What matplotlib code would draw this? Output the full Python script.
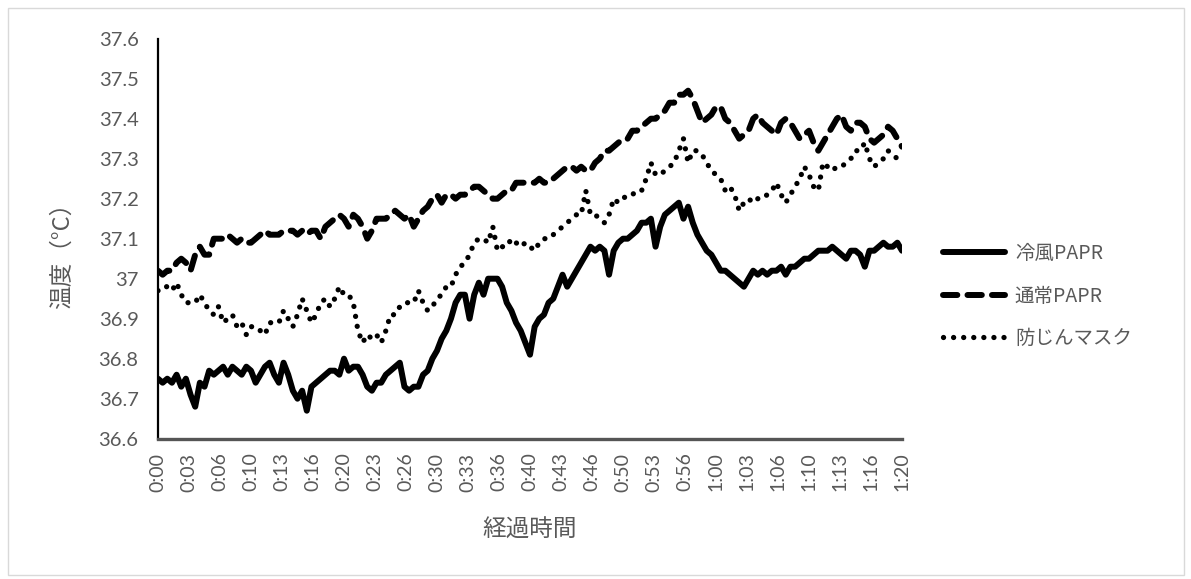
import numpy as np
import matplotlib
matplotlib.use("Agg")
import matplotlib.pyplot as plt
from matplotlib.patches import Rectangle

# 経過時間 (分) : 30秒ごとの記録
minutes = np.arange(0, 80.5, 0.5)

# 冷風PAPR
cold_papr = [
    36.75, 36.74, 36.75, 36.74, 36.76, 36.73, 36.75, 36.71, 36.68, 36.74,
    36.73, 36.77, 36.76, 36.77, 36.78, 36.76, 36.78, 36.77, 36.76, 36.78,
    36.77, 36.74, 36.76, 36.78, 36.79, 36.76, 36.74, 36.79, 36.76, 36.72,
    36.70, 36.72, 36.67, 36.73, 36.74, 36.75, 36.76, 36.77, 36.77, 36.76,
    36.80, 36.77, 36.78, 36.78, 36.76, 36.73, 36.72, 36.74, 36.74, 36.76,
    36.77, 36.78, 36.79, 36.73, 36.72, 36.73, 36.73, 36.76, 36.77, 36.80,
    36.82, 36.85, 36.87, 36.90, 36.94, 36.96, 36.96, 36.90, 36.96, 36.99,
    36.96, 37.00, 37.00, 37.00, 36.98, 36.94, 36.92, 36.89, 36.87, 36.84,
    36.81, 36.88, 36.90, 36.91, 36.94, 36.95, 36.98, 37.01, 36.98, 37.00,
    37.02, 37.04, 37.06, 37.08, 37.07, 37.08, 37.07, 37.01, 37.07, 37.09,
    37.10, 37.10, 37.11, 37.12, 37.14, 37.14, 37.15, 37.08, 37.13, 37.16,
    37.17, 37.18, 37.19, 37.15, 37.18, 37.14, 37.11, 37.09, 37.07, 37.06,
    37.04, 37.02, 37.02, 37.01, 37.00, 36.99, 36.98, 37.00, 37.02, 37.01,
    37.02, 37.01, 37.02, 37.02, 37.03, 37.01, 37.03, 37.03, 37.04, 37.05,
    37.05, 37.06, 37.07, 37.07, 37.07, 37.08, 37.07, 37.06, 37.05, 37.07,
    37.07, 37.06, 37.03, 37.07, 37.07, 37.08, 37.09, 37.08, 37.08, 37.09,
    37.07,
]

# 通常PAPR
normal_papr = [
    37.02, 37.01, 37.02, 37.02, 37.04, 37.05, 37.04, 37.02, 37.06, 37.08,
    37.06, 37.06, 37.10, 37.10, 37.10, 37.11, 37.10, 37.09, 37.10, 37.09,
    37.09, 37.10, 37.11, 37.12, 37.11, 37.11, 37.11, 37.12, 37.12, 37.12,
    37.11, 37.12, 37.11, 37.12, 37.12, 37.10, 37.13, 37.14, 37.15, 37.16,
    37.15, 37.13, 37.16, 37.15, 37.13, 37.10, 37.12, 37.15, 37.15, 37.15,
    37.16, 37.17, 37.16, 37.15, 37.16, 37.13, 37.15, 37.17, 37.18, 37.20,
    37.21, 37.19, 37.21, 37.21, 37.20, 37.21, 37.21, 37.22, 37.23, 37.23,
    37.22, 37.21, 37.20, 37.20, 37.21, 37.22, 37.22, 37.24, 37.24, 37.24,
    37.24, 37.24, 37.25, 37.24, 37.24, 37.25, 37.26, 37.27, 37.28, 37.28,
    37.27, 37.28, 37.27, 37.27, 37.29, 37.30, 37.32, 37.32, 37.33, 37.34,
    37.35, 37.35, 37.37, 37.37, 37.38, 37.39, 37.40, 37.40, 37.41, 37.42,
    37.44, 37.44, 37.46, 37.46, 37.47, 37.45, 37.42, 37.39, 37.40, 37.41,
    37.43, 37.43, 37.40, 37.39, 37.37, 37.35, 37.36, 37.37, 37.40, 37.41,
    37.39, 37.38, 37.37, 37.36, 37.39, 37.40, 37.39, 37.37, 37.35, 37.36,
    37.37, 37.34, 37.32, 37.34, 37.36, 37.38, 37.40, 37.41, 37.38, 37.37,
    37.39, 37.39, 37.38, 37.35, 37.34, 37.35, 37.36, 37.38, 37.37, 37.35,
    37.33,
]

# 防じんマスク
dust_mask = [
    36.97, 36.98, 36.98, 36.97, 36.99, 36.96, 36.94, 36.94, 36.94, 36.96,
    36.94, 36.92, 36.91, 36.93, 36.89, 36.90, 36.91, 36.88, 36.89, 36.86,
    36.88, 36.88, 36.87, 36.86, 36.89, 36.89, 36.89, 36.92, 36.90, 36.88,
    36.91, 36.95, 36.92, 36.89, 36.91, 36.94, 36.95, 36.93, 36.95, 36.98,
    36.96, 36.96, 36.94, 36.87, 36.84, 36.86, 36.85, 36.86, 36.84, 36.87,
    36.91, 36.91, 36.93, 36.94, 36.94, 36.94, 36.97, 36.94, 36.92, 36.93,
    36.95, 36.96, 36.98, 36.98, 37.01, 37.03, 37.04, 37.06, 37.09, 37.10,
    37.10, 37.09, 37.13, 37.07, 37.08, 37.08, 37.10, 37.09, 37.08, 37.09,
    37.08, 37.07, 37.09, 37.10, 37.10, 37.11, 37.12, 37.13, 37.14, 37.15,
    37.16, 37.16, 37.22, 37.16, 37.16, 37.15, 37.14, 37.16, 37.20, 37.19,
    37.20, 37.21, 37.21, 37.22, 37.22, 37.25, 37.29, 37.26, 37.26, 37.27,
    37.28, 37.29, 37.32, 37.35, 37.29, 37.32, 37.32, 37.31, 37.29, 37.27,
    37.26, 37.25, 37.22, 37.23, 37.21, 37.17, 37.19, 37.20, 37.19, 37.20,
    37.20, 37.21, 37.22, 37.24, 37.21, 37.19, 37.21, 37.23, 37.25, 37.28,
    37.26, 37.23, 37.22, 37.29, 37.28, 37.27, 37.28, 37.28, 37.29, 37.30,
    37.32, 37.32, 37.34, 37.30, 37.28, 37.29, 37.30, 37.32, 37.31, 37.30,
    37.30,
]

series_names = ["冷風PAPR", "通常PAPR", "防じんマスク"]

# 横軸の目盛りは 3分20秒ごと
xtick_labels = ["0:00", "0:03", "0:06", "0:10", "0:13", "0:16", "0:20", "0:23",
                "0:26", "0:30", "0:33", "0:36", "0:40", "0:43", "0:46", "0:50",
                "0:53", "0:56", "1:00", "1:03", "1:06", "1:10", "1:13", "1:16",
                "1:20"]
ytick_values = [36.6, 36.7, 36.8, 36.9, 37.0, 37.1, 37.2, 37.3, 37.4, 37.5, 37.6]
ytick_labels = ["36.6", "36.7", "36.8", "36.9", "37", "37.1", "37.2", "37.3",
                "37.4", "37.5", "37.6"]

GRAY = "#595959"
JP = ["Noto Sans CJK JP", "DejaVu Sans"]
NUM = ["Lato", "DejaVu Sans"]

fig = plt.figure(figsize=(11.91, 5.79), dpi=100)
fig.patches.append(Rectangle((0.007, 0.007), 0.987, 0.979, transform=fig.transFigure,
                             fill=False, edgecolor="#d9d9d9", linewidth=1.0))

ax = fig.add_axes([158 / 1191, 1 - 438.7 / 579, 744 / 1191, 400 / 579])

ax.plot(minutes, cold_papr, color="black", lw=4.3, solid_capstyle="round",
        solid_joinstyle="round", label=series_names[0])
ax.plot(minutes, normal_papr, color="black", lw=4.3, linestyle=(0, (2.4, 1.7)),
        dash_capstyle="round", label=series_names[1])
ax.plot(minutes, dust_mask, color="black", lw=3.8, linestyle=(0, (0.01, 1.9)),
        dash_capstyle="round", label=series_names[2])

ax.set_xlim(0, 80)
ax.set_ylim(36.6, 37.6)
ax.set_xticks(np.linspace(0, 80, len(xtick_labels)))
ax.set_xticklabels(xtick_labels, rotation=90, fontfamily=NUM, fontsize=14, color=GRAY)
ax.set_yticks(ytick_values)
ax.set_yticklabels(ytick_labels, fontfamily=NUM, fontsize=14.5, color=GRAY)
ax.tick_params(axis="both", length=0)
ax.tick_params(axis="y", pad=14)
ax.tick_params(axis="x", pad=10)

for side in ["top", "right"]:
    ax.spines[side].set_visible(False)
ax.spines["left"].set_color("black")
ax.spines["left"].set_linewidth(1.6)
ax.spines["bottom"].set_color("#555555")
ax.spines["bottom"].set_linewidth(2.4)

fig.text(62 / 1191, 1 - 250 / 579, "温度（°C）", rotation=90, ha="center", va="center",
         fontfamily=JP, fontsize=17, color=GRAY)
fig.text(530 / 1191, 1 - 530 / 579, "経過時間", ha="center", va="center",
         fontfamily=JP, fontsize=17, color=GRAY)

leg = ax.legend(loc="center left", bbox_to_anchor=(943 / 1191, 1 - 296 / 579),
                bbox_transform=fig.transFigure, frameon=False,
                prop={"family": JP, "size": 14}, handlelength=3.2,
                handletextpad=0.5, labelspacing=1.1, borderpad=0, borderaxespad=0)
for t in leg.get_texts():
    t.set_color(GRAY)

fig.savefig("out.png", dpi=100)
